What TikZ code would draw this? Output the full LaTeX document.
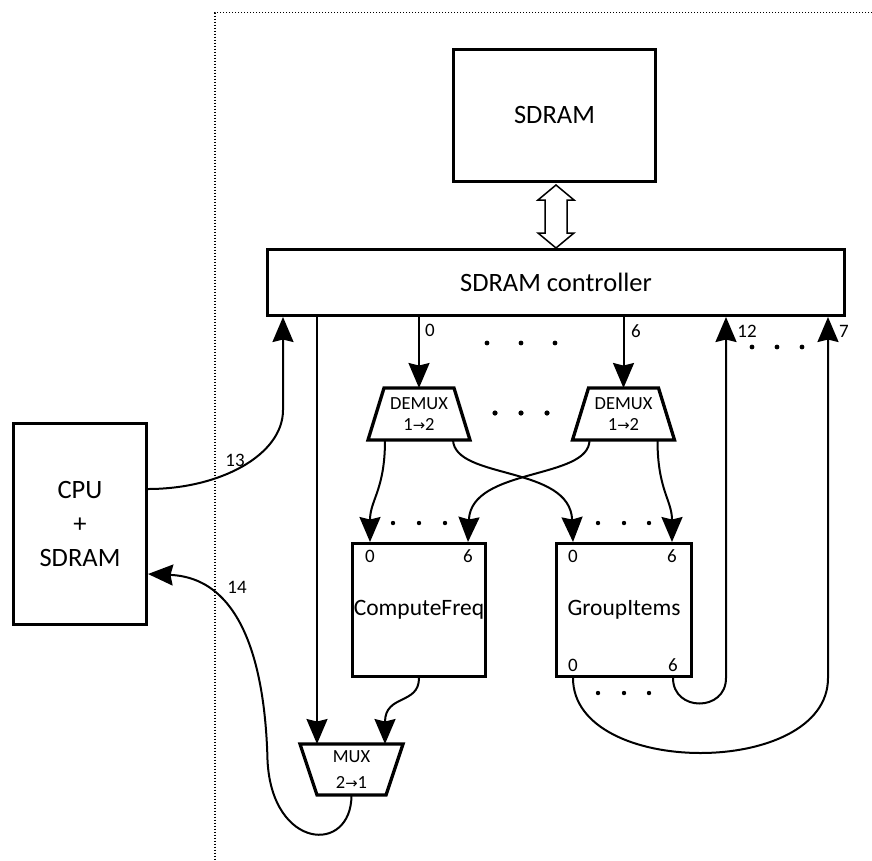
\documentclass[tikz,border=0pt]{standalone}
\usepackage{fontspec}
\setmainfont{Carlito}
\newfontfamily\symfont[Scale=0.8]{DejaVu Sans}
\usetikzlibrary{arrows.meta,calc}
\newcommand{\rarrow}{{\symfont →}}
\begin{document}
\begin{tikzpicture}[x=1pt,y=-1pt,
  box/.style={draw,line width=3.3pt,inner sep=0pt,align=center,font=\fontsize{26.5}{34}\selectfont},
  midfont/.style={font=\fontsize{23.5}{26}\selectfont},
  num/.style={inner sep=0pt,font=\fontsize{19}{21}\selectfont},
  trapn/.style={inner sep=0pt,outer sep=0pt,align=center,font=\fontsize{18.5}{21}\selectfont},
  trap/.style={line width=3.3pt,line join=miter},
  wire/.style={line width=2pt},
  arr/.style={wire,-{Stealth[length=25pt,width=21pt,inset=2.5pt]}},
  dotline/.style={line width=1.2pt,dash pattern=on 1.2pt off 1.8pt}
]
\useasboundingbox (0,0) rectangle (872,860);
\draw[dotline] (872,12.7) -- (215,12.7) -- (215,860);

% boxes
\node[box,minimum width=201.7pt,minimum height=132pt] (sdram) at (554.5,115.3) {SDRAM};
\node[box,line width=3pt,minimum width=577pt,minimum height=66pt] (ctrl) at (556,282.5) {SDRAM controller};
\node[box,minimum width=132.7pt,minimum height=200.7pt] (cpu) at (80,524) {CPU\\+\\SDRAM};
\node[box,midfont,minimum width=132.7pt,minimum height=132.7pt] (cf) at (419,610) {ComputeFreq};
\node[box,midfont,minimum width=134.7pt,minimum height=132.7pt] (gi) at (624,610) {GroupItems};

% port labels
\node[num] (cf0) at (370,556) {0};
\node[num] (cf6) at (468,556) {6};
\node[num] (gi0) at (573,556) {0};
\node[num] (gi6) at (672,556) {6};
\node[num] (gi0b) at (573,665) {0};
\node[num] (gi6b) at (673,665) {6};

% mux / demux
\node[trapn,minimum width=102pt,minimum height=52pt] (dmx1) at (419,414) {DEMUX\\1\rarrow2};
\node[trapn,minimum width=102pt,minimum height=52pt] (dmx2) at (623.5,414) {DEMUX\\1\rarrow2};
\node[trapn,font=\fontsize{18.5}{26}\selectfont,minimum width=103pt,minimum height=51pt] (mux) at (351.5,769.5) {MUX\\2\rarrow1};
\draw[trap] (dmx1.south west) -- (dmx1.south east) -- ($(dmx1.north east)+(-16,0)$) -- ($(dmx1.north west)+(16,0)$) -- cycle;
\draw[trap] (dmx2.south west) -- (dmx2.south east) -- ($(dmx2.north east)+(-16,0)$) -- ($(dmx2.north west)+(16,0)$) -- cycle;
\draw[trap] (mux.north west) -- (mux.north east) -- ($(mux.south east)+(-17,0)$) -- ($(mux.south west)+(17,0)$) -- cycle;

% hollow double arrow SDRAM <-> controller
\draw[line width=1.5pt,line join=miter]
  ($(ctrl.north)+(0,-63)$) -- ++(18,15) -- ++(-7,0) -- ++(0,33) -- ++(7,0) -- (ctrl.north)
  -- ++(-18,-15) -- ++(7,0) -- ++(0,-33) -- ++(-7,0) -- cycle;

% ports coordinates
\coordinate (p13) at (283,317);
\coordinate (p12) at (726,317);
\coordinate (p7) at (828,317);
\coordinate (muxinL) at ($(mux.north west)+(17,0)$);
\coordinate (muxinR) at ($(mux.north east)+(-18,0)$);
\coordinate (d1L) at ($(dmx1.south west)+(17,0)$);
\coordinate (d1R) at ($(dmx1.south east)+(-17,0)$);
\coordinate (d2L) at ($(dmx2.south west)+(17,0)$);
\coordinate (d2R) at ($(dmx2.south east)+(-17,0)$);

% controller outputs
\draw[arr] (dmx1 |- ctrl.south) -- (dmx1.north);
\draw[arr] (dmx2 |- ctrl.south) -- (dmx2.north);
\draw[arr] (ctrl.south -| muxinL) -- (muxinL);

% demux to modules
\draw[arr] (d1L) .. controls +(0,50) and +(0,-42) .. (cf0 |- cf.north);
\draw[arr] (d1R) .. controls +(2,40) and +(-3,-77) .. (gi0 |- gi.north);
\draw[arr] (d2L) .. controls +(0,40) and +(3,-75) .. (cf6 |- cf.north);
\draw[arr] (d2R) .. controls +(0,50) and +(0,-42) .. (gi6 |- gi.north);

% ComputeFreq to mux
\draw[arr] (cf.south) .. controls +(0,27) and +(0,-50) .. (muxinR);

% GroupItems outputs back to controller
\draw[arr] (gi6b |- gi.south) .. controls +(0,34) and +(0,34) .. (p12 |- gi.south) -- (p12);
\draw[arr] (gi0b |- gi.south) .. controls +(0,100) and +(0,100) .. (p7 |- gi.south) -- (p7);

% CPU <-> system
\draw[arr] ($(cpu.east)+(0,-35)$) .. controls +(72,0) and +(0,45) .. ($(p13)+(0,93)$) -- (p13);
\draw[arr] (mux.south) .. controls +(0,60) and +(4,90) .. ($(mux.south)+(-84,-35)$)
  .. controls +(-2,-80) and +(100,4) .. ($(cpu.east)+(0,50)$);

% labels
\node[num] (l13) at (235,460) {13};
\node[num] (l14) at (237,587) {14};
\node[num] (l0) at (430,330) {0};
\node[num] (l6) at (636,331) {6};
\node[num] (l12) at (747,331) {12};
\node[num] (l7) at (844,331) {7};

% ellipsis dots
\foreach \x in {487,521,555} \fill (\x,343) circle (2.4pt);
\foreach \x in {752,777,802} \fill (\x,347) circle (2.4pt);
\foreach \x in {495,521,547} \fill (\x,413) circle (2.6pt);
\foreach \x in {393,419,445} \fill (\x,523) circle (2.2pt);
\foreach \x in {598,624,649} \fill (\x,523) circle (2.2pt);
\foreach \x in {598,624,649} \fill (\x,693) circle (2.2pt);
\end{tikzpicture}
\end{document}
